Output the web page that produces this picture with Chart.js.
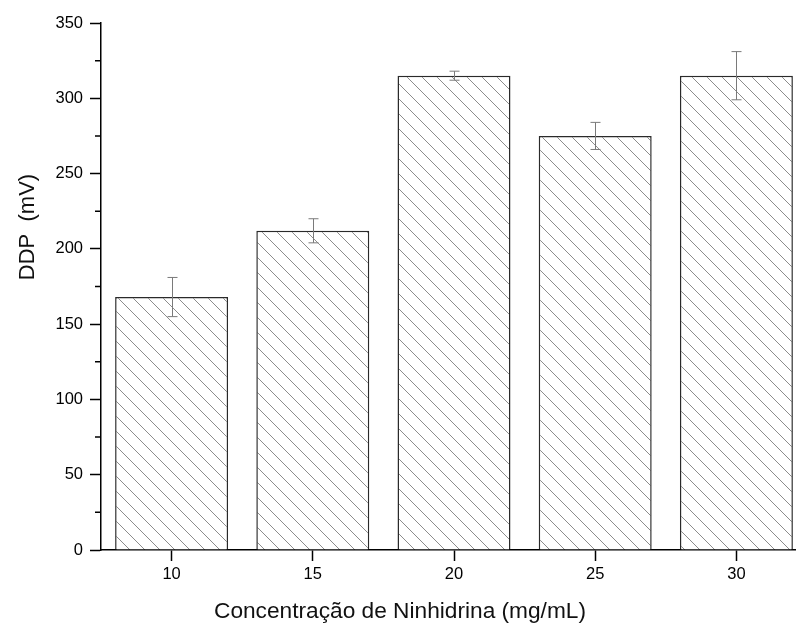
<!DOCTYPE html>
<html><head><meta charset="utf-8">
<script src="https://cdn.jsdelivr.net/npm/chart.js@4/dist/chart.umd.min.js"></script>
<style>
html,body{margin:0;padding:0;background:#fff;overflow:hidden;width:796px;height:632px}
canvas{display:block}
</style></head>
<body><canvas id="c" width="807" height="632"></canvas>
<script>
// ---- data ----
const categories = ['10', '15', '20', '25', '30'];
const ddpValues  = [168, 212, 315, 275, 315];
const ddpErrors  = [13, 8, 3, 9, 16];
const yMin = 0, yMax = 350, yMajorStep = 50, yMinorStep = 25;
const xTitle = 'Concentração de Ninhidrina (mg/mL)';
const yTitle = 'DDP  (mV)';

const FONT = '"Liberation Sans", Arial, Helvetica, sans-serif';

function makeHatch() {
  const s = 15;
  const p = document.createElement('canvas');
  p.width = s; p.height = s;
  const g = p.getContext('2d');
  g.fillStyle = '#ffffff';
  g.fillRect(0, 0, s, s);
  g.strokeStyle = '#8c8c8c';
  g.lineWidth = 1;
  g.beginPath();
  g.moveTo(-1, -1); g.lineTo(s + 1, s + 1);
  g.moveTo(-1, s - 1); g.lineTo(1, s + 1);
  g.moveTo(s - 1, -1); g.lineTo(s + 1, 1);
  g.stroke();
  return g.createPattern(p, 'repeat');
}

const errorBars = {
  id: 'errorBars',
  afterDatasetsDraw(chart) {
    const ys = chart.scales.y;
    const meta = chart.getDatasetMeta(0);
    const ctx = chart.ctx;
    ctx.save();
    ctx.strokeStyle = '#7a7a7a';
    ctx.lineWidth = 1;
    meta.data.forEach((bar, i) => {
      const x = Math.round(bar.x) + 0.5;
      const hi = ys.getPixelForValue(ddpValues[i] + ddpErrors[i]);
      const lo = ys.getPixelForValue(ddpValues[i] - ddpErrors[i]);
      const cap = 5;
      ctx.beginPath();
      ctx.moveTo(x, hi); ctx.lineTo(x, lo);
      ctx.moveTo(x - cap, hi); ctx.lineTo(x + cap, hi);
      ctx.moveTo(x - cap, lo); ctx.lineTo(x + cap, lo);
      ctx.stroke();
    });
    ctx.restore();
  }
};

const extras = {
  id: 'extras',
  afterDraw(chart) {
    const ctx = chart.ctx;
    const ys = chart.scales.y;
    ctx.save();
    // minor ticks
    ctx.strokeStyle = '#000';
    ctx.lineWidth = 1.5;
    ctx.beginPath();
    for (let v = yMin + yMinorStep; v < yMax; v += yMajorStep) {
      const y = ys.getPixelForValue(v);
      ctx.moveTo(ys.right - 6, y);
      ctx.lineTo(ys.right, y);
    }
    ctx.stroke();
    // axis titles
    ctx.fillStyle = '#111';
    ctx.font = '22.7px ' + FONT;
    ctx.textAlign = 'center';
    ctx.textBaseline = 'alphabetic';
    ctx.fillText(xTitle, 400, 618);
    ctx.font = '22px ' + FONT;
    ctx.translate(33.5, 227);
    ctx.rotate(-Math.PI / 2);
    ctx.fillText(yTitle, 0, 0);
    ctx.restore();
  }
};

const ctx = document.getElementById('c').getContext('2d');
new Chart(ctx, {
  type: 'bar',
  data: {
    labels: categories,
    datasets: [{
      data: ddpValues,
      backgroundColor: makeHatch(),
      borderColor: '#2a2a2a',
      borderWidth: 1.5,
      barPercentage: 0.8,
      categoryPercentage: 1.0
    }]
  },
  options: {
    responsive: false,
    animation: false,
    devicePixelRatio: 1,
    layout: { padding: { top: 23, right: 0, bottom: 0, left: 0 } },
    plugins: { legend: { display: false }, tooltip: { enabled: false }, title: { display: false } },
    scales: {
      x: {
        z: 1,
        afterFit(s) { s.height = 82; },
        grid: { offset: false, drawOnChartArea: false, tickLength: 11, tickColor: '#000', tickWidth: 1.5 },
        border: { display: true, color: '#000', width: 1.5 },
        ticks: { color: '#000', font: { family: FONT, size: 16.5 }, padding: 4, maxRotation: 0 }
      },
      y: {
        z: 1,
        min: yMin, max: yMax,
        afterFit(s) { s.width = 101; },
        grid: {
          drawOnChartArea: false, tickLength: 11, tickWidth: 1.5,
          tickColor: c => (c.tick && c.tick.value % yMajorStep === 0) ? '#000' : 'rgba(0,0,0,0)'
        },
        border: { display: true, color: '#000', width: 1.5 },
        ticks: {
          stepSize: yMinorStep, color: '#000', padding: 7,
          font: { family: FONT, size: 16.5 },
          callback: v => (v % yMajorStep === 0 ? String(v) : '')
        }
      }
    }
  },
  plugins: [errorBars, extras]
});
</script>
</body></html>
